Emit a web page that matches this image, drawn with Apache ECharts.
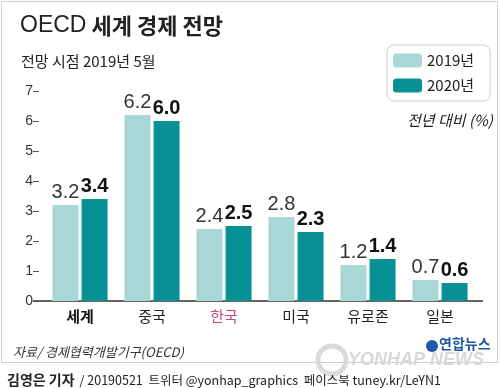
<!DOCTYPE html>
<html><head><meta charset="utf-8">
<script src="https://cdn.jsdelivr.net/npm/echarts@6/dist/echarts.min.js"></script>
<style>html,body{margin:0;padding:0;background:#fff}#c{width:500px;height:388px}</style>
</head><body><div id="c"></div>
<script>
const categories = ['세계','중국','한국','미국','유로존','일본'];
const values2019 = [3.2, 6.2, 2.4, 2.8, 1.2, 0.7];
const values2020 = [3.4, 6.0, 2.5, 2.3, 1.4, 0.6];
const yTicks = [0,1,2,3,4,5,6,7];

const KR = '"Noto Sans CJK KR", "Noto Sans", sans-serif';
const NUM = '"Liberation Sans Narrow", "Liberation Sans", Arial, sans-serif';
const chart = echarts.init(document.getElementById('c'), null, {renderer:'canvas'});
chart.setOption({
  backgroundColor:'#fff',
  animation:false,
  title:[
    {text:'{a|OECD} {b|세계 경제 전망}', left:15, top:9,
     textStyle:{rich:{a:{fontFamily:'"Liberation Sans", Arial, sans-serif', fontSize:23, fontWeight:300, color:'#222'},
                      b:{fontFamily:KR, fontSize:22, fontWeight:'bold', color:'#222'}}}},
    {text:'전망 시점 2019년 5월', left:16, top:49, textStyle:{fontFamily:KR, fontSize:15, fontWeight:'normal', color:'#222'}},
    {text:'전년 대비 (%)', left:402, top:108, textStyle:{fontFamily:KR, fontSize:15, fontStyle:'italic', fontWeight:'normal', color:'#222'}},
    {text:'자료/ 경제협력개발기구(OECD)', left:8, top:341, textStyle:{fontFamily:KR, fontSize:13, fontStyle:'italic', fontWeight:'normal', color:'#333'}},
    {text:'{b|김영은 기자} {n|/ 20190521  트위터 @yonhap_graphics  페이스북 tuney.kr/LeYN1}', left:2, top:366,
     textStyle:{fontWeight:'normal', rich:{b:{fontFamily:KR, fontSize:14, fontWeight:'bold', color:'#222'}, n:{fontFamily:KR, fontSize:12.5, fontWeight:'normal', color:'#222'}}}}
  ],
  legend:{
    orient:'vertical', left:387, top:45, itemWidth:29, itemHeight:14, itemGap:10,
    padding:[8,16,8,6], borderColor:'#cfcfcf', borderWidth:1, borderRadius:7,
    textStyle:{fontFamily:KR, fontSize:15, color:'#222'},
    data:['2019년','2020년']
  },
  grid:{left:44, right:24, top:91, bottom:87},
  xAxis:{
    type:'category', data:categories,
    axisLine:{show:false}, axisTick:{show:false},
    axisLabel:{interval:0, margin:8, fontFamily:KR, fontSize:15,
      formatter:v=> v==='세계' ? '{b|'+v+'}' : (v==='한국' ? '{r|'+v+'}' : '{n|'+v+'}'),
      rich:{b:{fontFamily:KR,fontSize:15,fontWeight:'bold',color:'#111'},
            r:{fontFamily:KR,fontSize:15,color:'#c2497e'},
            n:{fontFamily:KR,fontSize:15,color:'#222'}}}
  },
  yAxis:{
    type:'value', min:yTicks[0], max:yTicks[yTicks.length-1], interval:1, offset:5,
    axisLine:{show:false}, splitLine:{show:false},
    axisTick:{show:true, length:6, lineStyle:{color:'#555', width:1}},
    axisLabel:{margin:6, fontFamily:NUM, fontSize:14, color:'#333'}
  },
  series:[
    {name:'2019년', type:'bar', data:values2019, barWidth:26, barGap:'12%',
     itemStyle:{color:'#a9d6d7'},
     label:{show:true, position:'top', distance:3, fontFamily:NUM, fontSize:20, fontWeight:'normal', color:'#333', formatter:p=>p.value.toFixed(1)}},
    {name:'2020년', type:'bar', data:values2020, barWidth:26,
     itemStyle:{color:'#089194'},
     label:{show:true, position:'top', distance:3, fontFamily:NUM, fontSize:20, fontWeight:'bold', color:'#111', formatter:p=>p.value.toFixed(1)}}
  ]
});
const y0 = chart.convertToPixel({yAxisIndex:0}, 0);
chart.setOption({
  graphic:[
    {type:'rect', shape:{x:1.5, y:1.5, width:496, height:361}, style:{fill:null, stroke:'#cfcfcf', lineWidth:1}, silent:true, z:-1},
    {type:'line', shape:{x1:33, y1:y0, x2:483, y2:y0}, style:{stroke:'#333', lineWidth:1.5}},
    {type:'circle', shape:{cx:332, cy:360, r:14}, style:{fill:null, stroke:'#dadada', lineWidth:5}},
    {type:'text', left:348, top:351, style:{text:'YONHAP NEWS', fontFamily:'"Liberation Sans", Arial, sans-serif', fontSize:18, fontWeight:'bold', fontStyle:'italic', fill:'#d8d8d8'}},
    {type:'circle', shape:{cx:432, cy:346, r:6}, style:{fill:'#1f56a8'}},
    {type:'text', left:439, top:337, style:{text:'연합뉴스', fontFamily:KR, fontSize:14, fontWeight:'bold', fill:'#1f56a8'}}
  ]
});
</script></body></html>
